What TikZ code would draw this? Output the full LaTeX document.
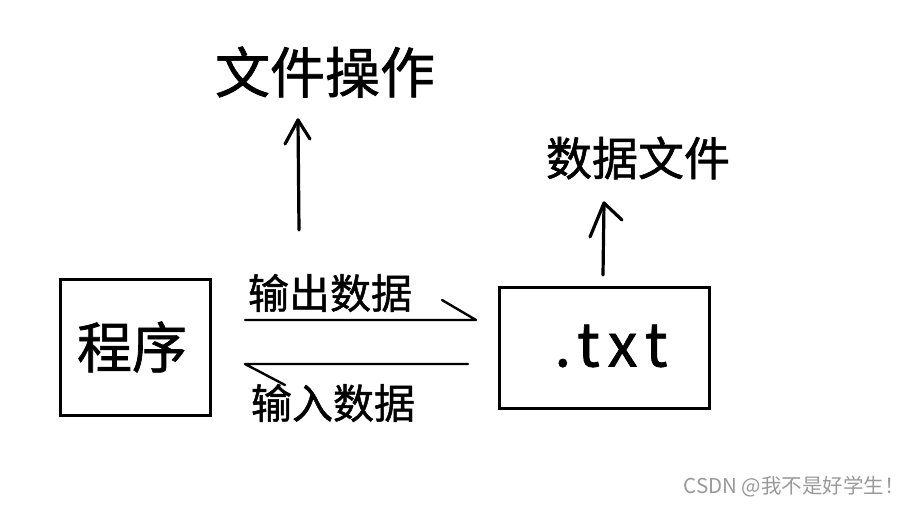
\documentclass[tikz,border=0pt]{standalone}
\usepackage{fontspec}
\setmainfont{Noto Sans CJK SC}
\newfontfamily\handfont[FakeBold=1.2]{Noto Sans CJK SC}
\newfontfamily\handlatin[FakeBold=1.2,LetterSpace=15]{Noto Sans CJK SC}
\tikzset{
  hand/.style={line width=3.2pt, black, line cap=round, line join=round},
  thinhand/.style={line width=2.4pt, black, line cap=round, line join=round},
  box/.style={draw, black, line width=2.8pt, inner sep=0pt},
  label/.style={inner sep=0pt, black, font=\handfont}
}
\begin{document}
\begin{tikzpicture}[x=1pt, y=-1pt]
\useasboundingbox (0,0) rectangle (908,506);
\node[box, minimum width=150pt, minimum height=136pt] (program) at (135.5,347.5) {};
\node[box, minimum width=210pt, minimum height=121pt] (txtfile) at (604.5,348) {};
\node[label] (progname) at (132,347) {\fontsize{55}{60}\selectfont 程序};
\node[label, font=\handlatin] (txtname) at (611,346) {\fontsize{60}{64}\selectfont .txt};
\node[label] (fileop) at (325,72) {\fontsize{55}{60}\selectfont 文件操作};
\node[label] (datafile) at (638,158) {\fontsize{46}{50}\selectfont 数据文件};
\node[label] (outdata) at (330,293) {\fontsize{41}{46}\selectfont 输出数据};
\node[label] (indata) at (333,403) {\fontsize{41}{46}\selectfont 输入数据};
% up arrows
\coordinate (opstart) at (299,230);
\coordinate (optip) at (298,120);
\coordinate (opleft) at (285,144);
\coordinate (opright) at (310,139);
\coordinate (filestart) at (603,275);
\coordinate (filetip) at (604,203);
\coordinate (fileleft) at (590,237);
\coordinate (fileright) at (622,220);
\draw[hand] (opstart) -- (optip);
\draw[hand] (opleft) -- (optip) -- (opright);
\draw[hand] (filestart) -- (filetip);
\draw[hand] (fileleft) -- (filetip) -- (fileright);
% half heads between the boxes
\coordinate (outstart) at (245,320);
\coordinate (outtip) at (476,320);
\coordinate (outbarb) at (442,300);
\coordinate (instart) at (468,364);
\coordinate (intip) at (245,364);
\coordinate (inbarb) at (285,385);
\draw[thinhand] (outstart) -- (outtip) -- (outbarb);
\draw[thinhand] (instart) -- (intip) -- (inbarb);
\node[text=gray!80, inner sep=0pt, anchor=east] (mark) at (905,487) {\fontsize{20.5}{22}\selectfont CSDN @我不是好学生！};
\end{tikzpicture}
\end{document}
